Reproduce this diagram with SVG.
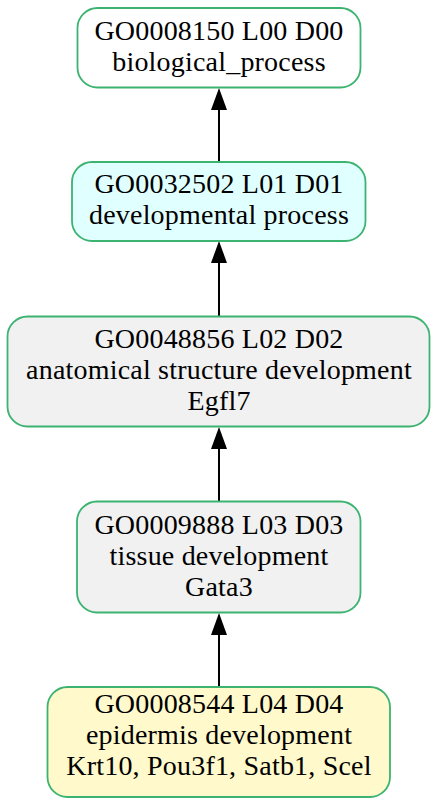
<svg xmlns="http://www.w3.org/2000/svg" width="437" height="806" viewBox="0 0 437 806">
<defs>
<style>
.box{stroke:#3cb371;stroke-width:1.8}
.t{font-size:28px;letter-spacing:0.2px;fill:#000;text-anchor:middle}
.e{stroke:#000;stroke-width:2;fill:none}
</style>
<marker id="arr" viewBox="0 0 22 16" markerWidth="22" markerHeight="16" refX="0" refY="8" orient="auto" markerUnits="userSpaceOnUse">
<path d="M0,0 L22,8 L0,16 Z" fill="#000"/>
</marker>
</defs>
<rect width="437" height="806" fill="#fff"/>
<g id="connectors">
<path class="e" d="M219,162 L219,110" marker-end="url(#arr)"/>
<path class="e" d="M219,316.5 L219,263" marker-end="url(#arr)"/>
<path class="e" d="M219,501.5 L219,449" marker-end="url(#arr)"/>
<path class="e" d="M219,687 L219,635" marker-end="url(#arr)"/>
</g>
<g font-family="Liberation Serif, DejaVu Serif, serif">
<g id="GO0008150">
<rect class="box" x="77.5" y="8" width="283" height="79.5" rx="20" fill="#ffffff"/>
<text class="t" x="219" y="39.5">GO0008150 L00 D00</text>
<text class="t" x="219" y="70.5">biological_process</text>
</g>
<g id="GO0032502">
<rect class="box" x="72" y="162" width="293.5" height="79" rx="20" fill="#e0ffff"/>
<text class="t" x="219" y="193">GO0032502 L01 D01</text>
<text class="t" x="219" y="224">developmental process</text>
</g>
<g id="GO0048856">
<rect class="box" x="7.5" y="316.5" width="422" height="110" rx="20" fill="#f1f1f1"/>
<text class="t" x="219" y="348">GO0048856 L02 D02</text>
<text class="t" x="219" y="379">anatomical structure development</text>
<text class="t" x="219" y="410">Egfl7</text>
</g>
<g id="GO0009888">
<rect class="box" x="77" y="501.5" width="283.5" height="111" rx="20" fill="#f1f1f1"/>
<text class="t" x="219" y="533.5">GO0009888 L03 D03</text>
<text class="t" x="219" y="564.5">tissue development</text>
<text class="t" x="219" y="595.5">Gata3</text>
</g>
<g id="GO0008544">
<rect class="box" x="47.5" y="687" width="342.5" height="110" rx="20" fill="#fff9cc"/>
<text class="t" x="219" y="713">GO0008544 L04 D04</text>
<text class="t" x="219" y="744">epidermis development</text>
<text class="t" x="219" y="775">Krt10, Pou3f1, Satb1, Scel</text>
</g>
</g>
</svg>
